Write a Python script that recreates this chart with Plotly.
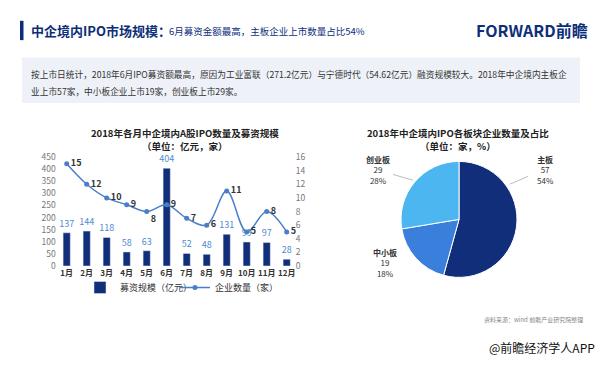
import plotly.graph_objects as go

months = ["1月", "2月", "3月", "4月", "5月", "6月", "7月", "8月", "9月", "10月", "11月", "12月"]
funds = [137, 144, 118, 58, 63, 404, 52, 48, 131, 99, 97, 28]
counts = [15, 12, 10, 9, 8, 9, 7, 6, 11, 5, 8, 5]
count_pos = ["middle right"] * 4 + ["bottom right"] + ["middle right"] * 7

boards = ["主板", "中小板", "创业板"]
board_counts = [57, 19, 29]
board_pct = ["54%", "18%", "28%"]

# the page body has a default 8px margin, so the figure is drawn at (8, 8)
OFF = 8
W, H = 610 - OFF, 365 - OFF
def px(x):
    return (x - OFF) / W
def py(y):
    return 1 - (y - OFF) / H

FONT = "Noto Sans CJK SC"
NAVY = "#112e7b"
LINE = "#4a7ec8"

fig = go.Figure()

fig.add_trace(go.Bar(
    x=months, y=funds, name="募资规模（亿元）", marker_color=NAVY, width=0.36,
    text=[str(v) for v in funds], textposition="outside", cliponaxis=False,
    constraintext="none", legend="legend",
    textfont=dict(color="#4f8bd3", size=9, family=FONT), xaxis="x", yaxis="y",
))
fig.add_trace(go.Scatter(
    x=months, y=counts, name="企业数量（家）", mode="lines+markers+text",
    line=dict(color=LINE, width=1.5, shape="spline", smoothing=1.0),
    marker=dict(color=LINE, size=5), legend="legend2",
    text=[f"<b>{v}</b>" for v in counts], textposition=count_pos, cliponaxis=False,
    textfont=dict(color="#333333", size=9, family=FONT), xaxis="x", yaxis="y2",
))

fig.add_trace(go.Pie(
    labels=boards, values=board_counts, sort=False, direction="clockwise", rotation=0,
    marker=dict(colors=[NAVY, "#3b7fdc", "#4bb6ef"], line=dict(color="white", width=1)),
    textinfo="none", hoverinfo="label+value+percent", showlegend=False,
    domain=dict(x=[px(399), px(519)], y=[py(279.5), py(159.5)]),
))

fig.update_layout(
    width=W, height=H, margin=dict(l=0, r=0, t=0, b=0),
    paper_bgcolor="white", plot_bgcolor="white",
    font=dict(family=FONT, size=9, color="#333"),
    xaxis=dict(domain=[px(56.7), px(296.7)], range=[-0.5, 11.5], showgrid=False, showline=False,
               zeroline=False, autorange=False,
               tickfont=dict(size=8, color="#333", family=FONT), ticks="", tickangle=0,
               ticklabelstandoff=1,
               tickvals=months, ticktext=[f"<b>{m}</b>" for m in months]),
    yaxis=dict(domain=[py(267.7), py(155)], range=[0, 450], dtick=50, showgrid=False,
               zeroline=False, showline=False, tickfont=dict(size=8.5, color="#777")),
    yaxis2=dict(domain=[py(267.7), py(155)], range=[0, 16], dtick=2, overlaying="y", side="right",
                anchor="x", showgrid=False, zeroline=False, showline=False,
                tickfont=dict(size=8.5, color="#777"), ticklabelstandoff=-2),
    bargap=0.6,
    legend=dict(orientation="h", x=px(80), y=py(290), xanchor="left", yanchor="middle",
                font=dict(size=9, color="#333"), bgcolor="rgba(0,0,0,0)", itemwidth=30),
    legend2=dict(orientation="h", x=px(175), y=py(290), xanchor="left", yanchor="middle",
                 font=dict(size=9, color="#333"), bgcolor="rgba(0,0,0,0)", itemwidth=30),
)

shapes = [
    dict(type="rect", xref="paper", yref="paper", x0=px(20), x1=px(23.5), y0=py(34), y1=py(14),
         fillcolor="#0d2f7a", line=dict(width=0)),
    dict(type="rect", xref="paper", yref="paper", x0=px(22), x1=px(580), y0=py(99), y1=py(52),
         fillcolor="#eef2f8", line=dict(width=0), layer="below"),
    dict(type="line", xref="paper", yref="paper", x0=px(510), y0=py(183), x1=px(528), y1=py(175),
         line=dict(color="#aaa", width=0.8)),
    dict(type="line", xref="paper", yref="paper", x0=px(393), y0=py(173), x1=px(413), y1=py(179),
         line=dict(color="#aaa", width=0.8)),
]
fig.update_layout(shapes=shapes)

def ann(x, y, text, size, color="#333", bold=False, xanchor="left", yanchor="middle", align="left"):
    t = f"<b>{text}</b>" if bold else text
    return dict(x=px(x), y=py(y), xref="paper", yref="paper", text=t, showarrow=False,
                xanchor=xanchor, yanchor=yanchor, align=align,
                font=dict(size=size, color=color, family=FONT))

anns = [
    ann(29, 24, "中企境内IPO市场规模：", 13, "#0d2f7a", bold=True),
    ann(167, 25, "6月募资金额最高，主板企业上市数量占比54%", 9.5, "#0d2f7a"),
    ann(590, 24, "FORWARD前瞻", 16, "#0d2f7a", bold=True, xanchor="right"),
    ann(29, 70, "按上市日统计，2018年6月IPO募资额最高，原因为工业富联（271.2亿元）与宁德时代（54.62亿元）融资规模较大。2018年中企境内主板企", 8.7, "#333"),
    ann(29, 87, "业上市57家，中小板企业上市19家，创业板上市29家。", 8.7, "#333"),
    ann(185, 130, "2018年各月中企境内A股IPO数量及募资规模", 9.5, "#222", bold=True, xanchor="center"),
    ann(185, 144, "（单位：亿元，家）", 9.5, "#222", bold=True, xanchor="center"),
    ann(458, 130, "2018年中企境内IPO各板块企业数量及占比", 9.5, "#222", bold=True, xanchor="center"),
    ann(458, 144, "（单位：家，%）", 9.5, "#222", bold=True, xanchor="center"),
    ann(545, 168, f"<b>{boards[0]}</b><br>{board_counts[0]}<br>{board_pct[0]}", 8, "#333", xanchor="center", align="center"),
    ann(378, 168, f"<b>{boards[2]}</b><br>{board_counts[2]}<br>{board_pct[2]}", 8, "#333", xanchor="center", align="center"),
    ann(385, 265, f"<b>{boards[1]}</b><br>{board_counts[1]}<br>{board_pct[1]}", 8, "#333", xanchor="center", align="center"),
    ann(585, 323, "资料来源：wind 前瞻产业研究院整理", 6, "#888", xanchor="right"),
    ann(597, 352, "@前瞻经济学人APP", 12, "#111", xanchor="right"),
]
fig.update_layout(annotations=anns)

fig.write_html("out.html")
